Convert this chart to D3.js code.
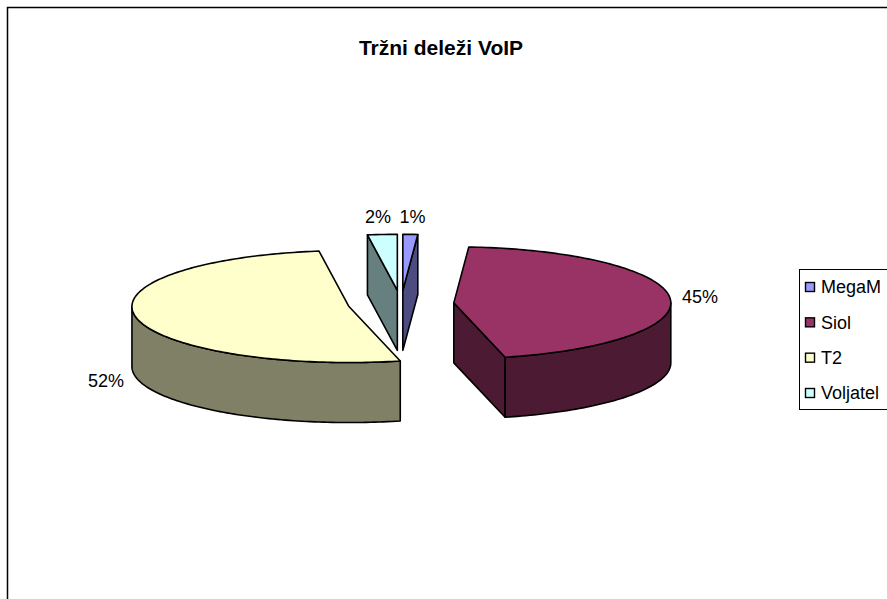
<!DOCTYPE html>
<html>
<head>
<meta charset="utf-8">
<script src="https://cdn.jsdelivr.net/npm/d3@7"></script>
<style>
    body { margin: 0; background: #fff; overflow: hidden; }
    svg { display: block; font-family: "Liberation Sans", Arial, sans-serif; }
</style>
</head>
<body>
<div id="chart"></div>
<script>
// Data (shares in %, labels show them rounded)
const names = ['MegaM', 'Siol', 'T2', 'Voljatel'];
const shares = [1.1, 45.1, 51.6, 2.2];
const topColors = ['#9999FF', '#993366', '#FFFFCC', '#CCFFFF'];
const sideColors = ['#4C4C80', '#4D1A33', '#808066', '#668080'];
const title = 'Tržni deleži VoIP';

const W = 887, H = 599;

// Pie geometry
const cx = 401, cy = 304;
const rx = 217;          // radius on screen (horizontal)
const tilt = 0.258;      // ry / rx
const depth = 60;
const explode = 53;

const svg = d3.select('#chart').append('svg')
    .attr('width', W)
    .attr('height', H);

svg.append('rect').attr('width', W).attr('height', H).attr('fill', '#fff');

// chart area border (runs off the right and bottom edge)
svg.append('path')
    .attr('d', `M7.5,${H} V7.5 H${W}`)
    .attr('fill', 'none')
    .attr('stroke', '#000')
    .attr('stroke-width', 1.5);

svg.append('text')
    .attr('x', 441)
    .attr('y', 48)
    .attr('dy', '0.35em')
    .attr('text-anchor', 'middle')
    .attr('font-size', 21)
    .attr('font-weight', 'bold')
    .text(title);

const total = d3.sum(shares);
const pctFmt = v => Math.round(v / total * 100) + '%';

const slices = d3.pie().sort(null).value(d => d)(shares).map((s, i) => {
    const mid = (s.startAngle + s.endAngle) / 2;
    return {
        ...s,
        i,
        mid,
        ox: cx + explode * Math.sin(mid),
        oy: cy - explode * Math.cos(mid) * tilt
    };
});

// point on the tilted circle of a slice
function pt(s, a, r, dz) {
    return [s.ox + r * Math.sin(a), s.oy - r * Math.cos(a) * tilt + (dz || 0)];
}

function arcPts(s, a0, a1, dz) {
    const n = Math.max(2, Math.ceil(Math.abs(a1 - a0) / 0.02));
    return d3.range(n + 1).map(k => pt(s, a0 + (a1 - a0) * k / n, rx, dz));
}

const line = d3.line();
const g = svg.append('g')
    .attr('stroke', '#000')
    .attr('stroke-width', 1.6)
    .attr('stroke-linejoin', 'round');

// back slices first
const order = slices.slice().sort((a, b) => a.oy - b.oy);

order.forEach(s => {
    const side = sideColors[s.i];
    const center = [s.ox, s.oy];
    const centerLow = [s.ox, s.oy + depth];

    // radial face at start angle: visible when it faces the viewer
    if (Math.sin(s.startAngle) < 0) {
        const p = pt(s, s.startAngle, rx);
        const pl = pt(s, s.startAngle, rx, depth);
        g.append('path').attr('fill', side)
            .attr('d', line([center, p, pl, centerLow]) + 'Z');
    }
    // radial face at end angle
    if (Math.sin(s.endAngle) > 0) {
        const p = pt(s, s.endAngle, rx);
        const pl = pt(s, s.endAngle, rx, depth);
        g.append('path').attr('fill', side)
            .attr('d', line([center, p, pl, centerLow]) + 'Z');
    }
    // outer curved face, front half only
    const a0 = Math.max(s.startAngle, Math.PI / 2);
    const a1 = Math.min(s.endAngle, Math.PI * 1.5);
    if (a1 > a0) {
        const top = arcPts(s, a0, a1, 0);
        const bottom = arcPts(s, a1, a0, depth);
        g.append('path').attr('fill', side)
            .attr('d', line(top.concat(bottom)) + 'Z');
    }
    // top face
    g.append('path').attr('fill', topColors[s.i])
        .attr('d', line([center].concat(arcPts(s, s.startAngle, s.endAngle, 0))) + 'Z');
});

// percentage labels
slices.forEach(s => {
    const sn = Math.sin(s.mid), cs = Math.cos(s.mid);
    let [ax, ay] = pt(s, s.mid, rx + 12);
    if (cs < 0) ay += depth;
    const t = svg.append('text')
        .attr('font-size', 18)
        .attr('dy', '0.35em')
        .text(pctFmt(s.data));
    const w = t.node().getComputedTextLength();
    const k = Math.max(-1, Math.min(1, sn * 4));
    t.attr('x', ax - w * (1 - k) / 2)
        .attr('y', ay - cs * 15);
});

// legend
const ly = d3.scalePoint().domain(names).range([287, 393]);
const legend = svg.append('g');
legend.append('rect')
    .attr('x', 799.5).attr('y', 269.5)
    .attr('width', 120).attr('height', 140)
    .attr('fill', '#fff').attr('stroke', '#000').attr('stroke-width', 1);

names.forEach((n, i) => {
    legend.append('rect')
        .attr('x', 805.5).attr('y', ly(n) - 4.5)
        .attr('width', 9).attr('height', 9)
        .attr('fill', topColors[i])
        .attr('stroke', '#000').attr('stroke-width', 1.4);
    legend.append('text')
        .attr('x', 821).attr('y', ly(n))
        .attr('dy', '0.35em')
        .attr('font-size', 18)
        .text(n);
});
</script>
</body>
</html>
